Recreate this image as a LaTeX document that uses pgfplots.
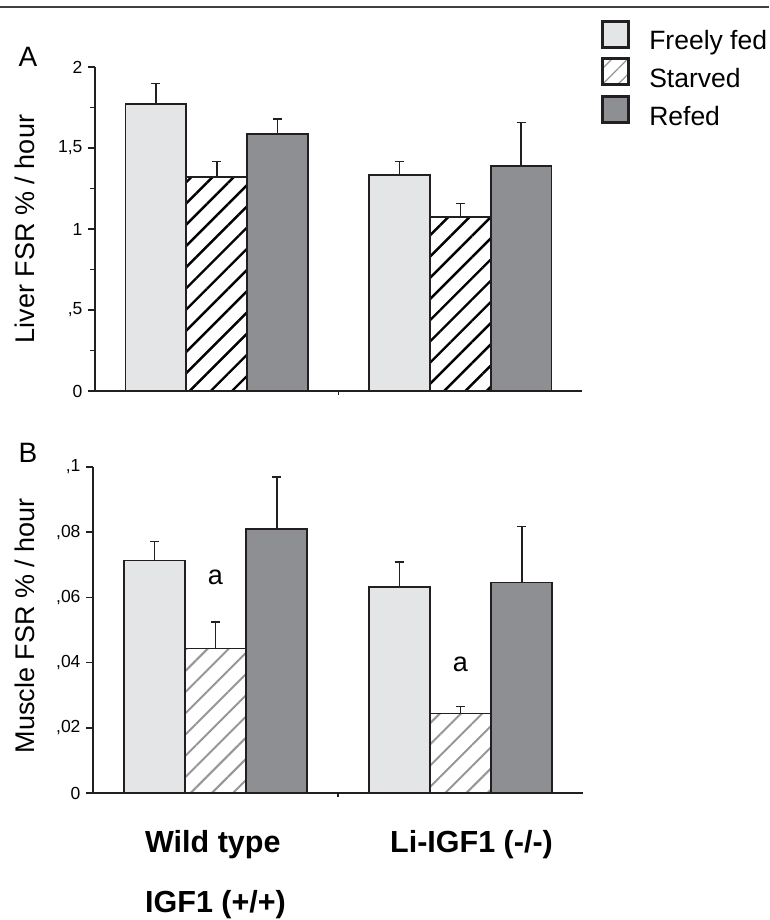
\documentclass[border=0pt]{standalone}
\usepackage{fontspec}
\setmainfont{Liberation Sans}
\usepackage{pgfplots}
\pgfplotsset{compat=1.18}
\usepackage{pgfplotstable}
\usetikzlibrary{patterns.meta}
\definecolor{ffcol}{RGB}{228,229,231}
\definecolor{rfcol}{RGB}{142,143,147}
\definecolor{edge}{RGB}{35,31,32}
\definecolor{hatchB}{RGB}{150,150,150}

\pgfplotstableread{
x ff ffe st ste rf rfe
1 1.772 0.125 1.323 0.095 1.584 0.095
2 1.335 0.083 1.072 0.086 1.389 0.267
}\liver
\pgfplotstableread{
x ff ffe st ste rf rfe
1 0.0713 0.0058 0.0443 0.0082 0.0809 0.0160
2 0.0631 0.0078 0.0244 0.0021 0.0646 0.0172
}\muscle

\pgfplotsset{
  panel/.style={
    scale only axis,
    axis lines=left,
    xmin=0.5, xmax=2.5, ymin=0,
    axis line style={line width=2pt, draw=edge, -},
    tick align=outside,
    tick style={line width=1.5pt, draw=edge},
    major tick length=7pt, minor tick length=5pt,
    yticklabel style={font=\fontsize{17.5}{20}\selectfont, xshift=-2pt},
    ylabel style={font=\fontsize{27}{30}\selectfont, anchor=center},
    ybar, bar width=0.25,
    clip=false,
  },
  barsty/.style={draw=edge, line width=1.8pt,
    error bars/y dir=plus, error bars/y explicit,
    error bars/error bar style={line width=1.5pt, draw=edge},
    error bars/error mark options={rotate=90, mark size=4.5pt, line width=1.5pt, draw=edge}},
}

\begin{document}
\begin{tikzpicture}[x=1pt,y=1pt]
\useasboundingbox (0,0) rectangle (769,920);
\draw[line width=1.5pt, black!75] (0,913) -- (769,913);
\node[font=\fontsize{28}{30}\selectfont] at (28,863) {A};
\node[font=\fontsize{28}{30}\selectfont] at (28,467) {B};

% Panel A
\begin{axis}[panel,
  at={(95pt,529pt)}, anchor=south west,
  width=487pt, height=324pt,
  ymax=2,
  ytick={0,0.5,1,1.5,2},
  yticklabels={0,{,5},1,{1,5},2},
  minor y tick num=1,
  xtick=\empty,
  extra x ticks={1.5}, extra x tick labels={},
  extra x tick style={major tick length=4pt, tick style={line width=1.2pt}},
  ylabel={Liver FSR \% / hour},
  ylabel style={at={(axis description cs:-0.1437,0.5)}},
  legend style={at={(axis description cs:1.033,1.153)}, anchor=north west,
    draw=none, fill=none, font=\fontsize{26.5}{30}\selectfont,
    row sep=4pt,
    /tikz/every odd column/.append style={column sep=17pt}},
  legend cell align=left,
]
\addlegendimage{legend image code/.code={\draw[fill=ffcol, draw=edge, line width=3pt] (0pt,-6pt) rectangle (26pt,20pt);}}
\addlegendentry{Freely fed}
\addlegendimage{legend image code/.code={\draw[pattern={Lines[angle=45,distance=11pt,line width=1.2pt]}, pattern color=hatchB, draw=edge, line width=3pt] (0pt,-6pt) rectangle (26pt,20pt);}}
\addlegendentry{Starved}
\addlegendimage{legend image code/.code={\draw[fill=rfcol, draw=edge, line width=3pt] (0pt,-6pt) rectangle (26pt,20pt);}}
\addlegendentry{Refed}
\addplot[barsty, fill=ffcol, bar shift=-0.25, forget plot] table[x=x, y=ff, y error=ffe] {\liver};
\addplot[barsty, pattern={Lines[angle=45,distance=15pt,line width=2.4pt]}, pattern color=black, bar shift=0, forget plot] table[x=x, y=st, y error=ste] {\liver};
\addplot[barsty, fill=rfcol, bar shift=0.25, forget plot] table[x=x, y=rf, y error=rfe] {\liver};
\end{axis}

% Panel B
\begin{axis}[panel,
  at={(93pt,127pt)}, anchor=south west,
  width=490pt, height=326pt,
  ymax=0.1,
  ytick={0,0.02,0.04,0.06,0.08,0.1},
  yticklabels={0,{,02},{,04},{,06},{,08},{,1}},
  xtick={1,2},
  xticklabels={{Wild type\\[5pt]IGF1 (+/+)},{\hspace*{22pt}Li-IGF1 (-/-)}},
  xtick style={draw=none},
  xticklabel style={align=left, font=\bfseries\fontsize{30.5}{55}\selectfont, anchor=north, yshift=-27pt},
  extra x ticks={1.5}, extra x tick labels={},
  extra x tick style={major tick length=4pt, xtick style={draw=edge, line width=1.2pt}},
  ylabel={Muscle FSR \% / hour},
  ylabel style={at={(axis description cs:-0.139,0.513)}},
]
\addplot[barsty, fill=ffcol, bar shift=-0.25] table[x=x, y=ff, y error=ffe] {\muscle};
\addplot[barsty, pattern={Lines[angle=45,distance=15pt,line width=2pt]}, pattern color=hatchB, bar shift=0] table[x=x, y=st, y error=ste] {\muscle};
\addplot[barsty, fill=rfcol, bar shift=0.25] table[x=x, y=rf, y error=rfe] {\muscle};
\node[font=\fontsize{27}{30}\selectfont] at (axis cs:1,0.066) {a};
\node[font=\fontsize{27}{30}\selectfont] at (axis cs:2,0.0394) {a};
\end{axis}
\end{tikzpicture}
\end{document}
